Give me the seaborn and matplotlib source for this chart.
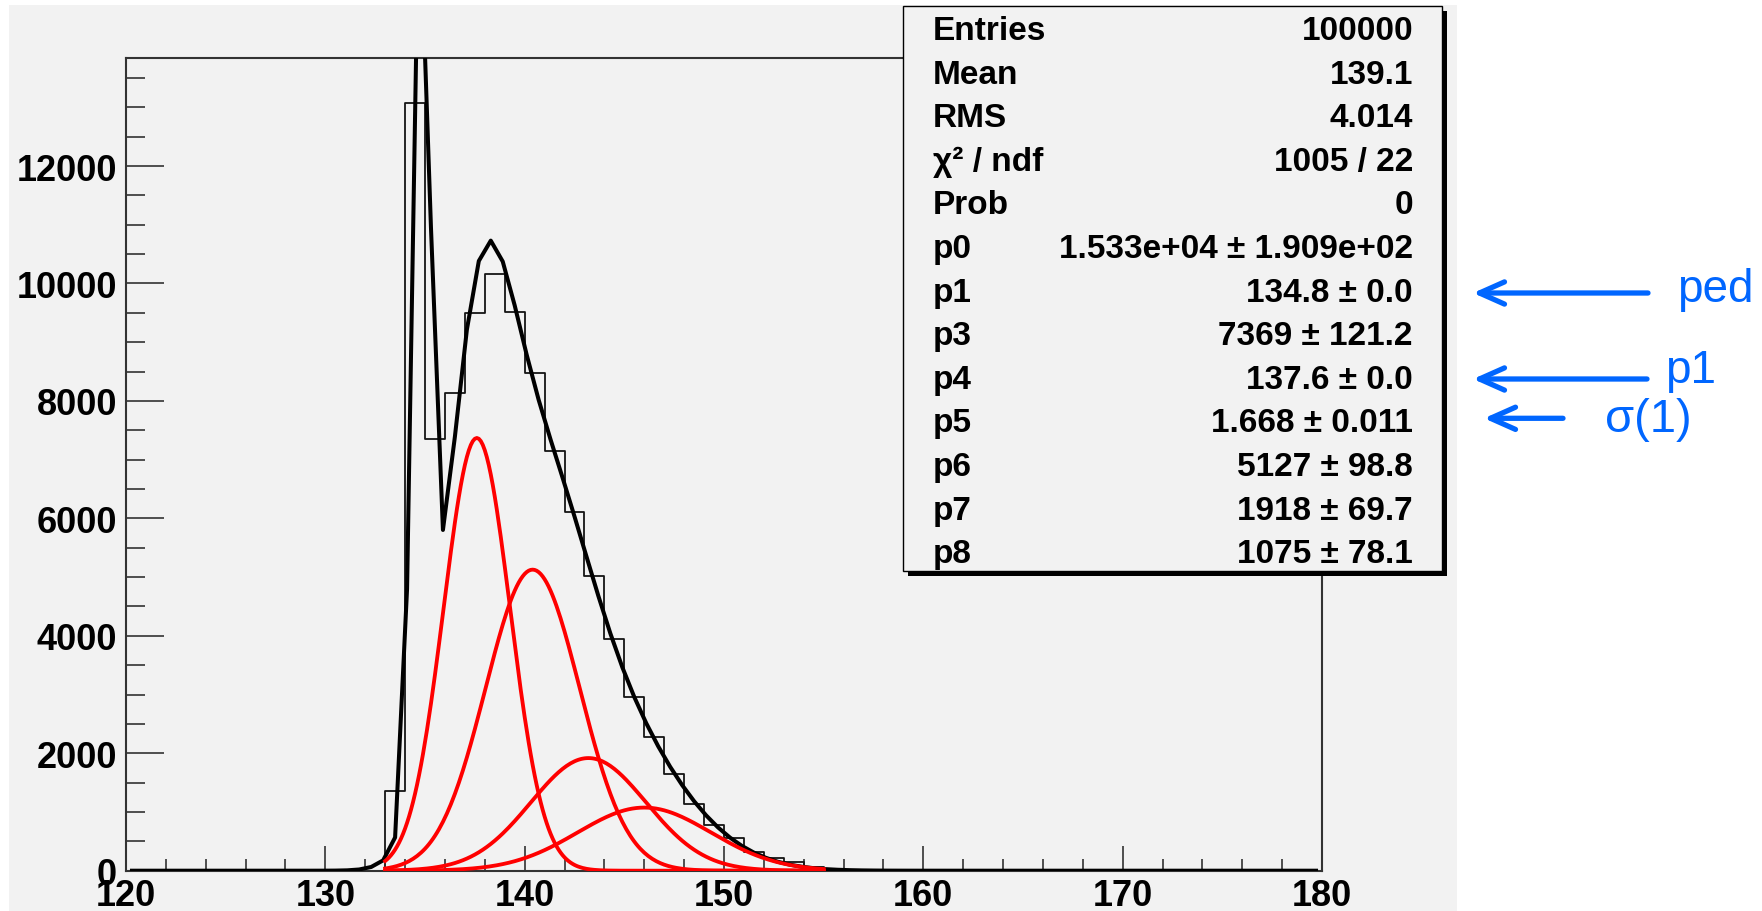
import numpy as np
import pandas as pd
import matplotlib
matplotlib.use("Agg")
import matplotlib.pyplot as plt
import seaborn as sns
from matplotlib.patches import Rectangle
from matplotlib.ticker import MultipleLocator

# ---------------- data ----------------
bin_edges = list(range(120, 181))            # 60 bins of width 1
bin_counts = [0, 0, 0, 0, 0, 0, 0, 0, 0, 0,   # 120-129
              0, 0, 0, 1350, 13070, 7350, 8130, 9500, 10170, 9520,   # 130-139
              8470, 7140, 6110, 5020, 3950, 2950, 2270, 1650, 1140, 770,  # 140-149
              550, 310, 210, 150, 70, 15, 0, 0, 0, 0,   # 150-159
              0, 0, 0, 0, 0, 0, 0, 0, 0, 0,   # 160-169
              0, 0, 0, 0, 0, 0, 0, 0, 0, 0]   # 170-179

# fit parameters (stats box); pedestal width is not shown -> estimated
ped_amp, ped_mean, ped_sigma = 15330.0, 134.8, 0.42
pe_amp = [7369.0, 5127.0, 1918.0, 1075.0]
pe_mean = [137.6, 140.4, 143.2, 146.0]
pe_sigma = [1.668, 2.36, 2.89, 3.34]
fit_range = [133.0, 155.0]

x_ticks = [120, 130, 140, 150, 160, 170, 180]
x_tick_labels = ["120", "130", "140", "150", "160", "170", "180"]
y_ticks = [0, 2000, 4000, 6000, 8000, 10000, 12000]
y_tick_labels = ["0", "2000", "4000", "6000", "8000", "10000", "12000"]

stat_names = ["Entries", "Mean", "RMS", "\u03c7\u00b2 / ndf", "Prob", "p0", "p1",
              "p3", "p4", "p5", "p6", "p7", "p8"]
stat_values = ["100000", "139.1", "4.014", "1005 / 22", "0",
               "1.533e+04 \u00b1 1.909e+02", "134.8 \u00b1 0.0", "7369 \u00b1 121.2",
               "137.6 \u00b1 0.0", "1.668 \u00b1 0.011", "5127 \u00b1 98.8",
               "1918 \u00b1 69.7", "1075 \u00b1 78.1"]
note_labels = ["ped", "p1", "\u03c3(1)"]

# ---------------- helpers ----------------
def gauss(x, a, m, s):
    return a * np.exp(-0.5 * ((x - m) / s) ** 2)

centers = np.array(bin_edges[:-1]) + 0.5
hist_df = pd.DataFrame({"x": centers, "w": bin_counts})

# ROOT draws the total fit through npx=100 bin centres over the axis range
fit_x = 120.0 + 0.6 * (np.arange(100) + 0.5)
fit_y = gauss(fit_x, ped_amp, ped_mean, ped_sigma)
for a, m, s in zip(pe_amp, pe_mean, pe_sigma):
    fit_y = fit_y + gauss(fit_x, a, m, s)

comp_x = np.linspace(fit_range[0], fit_range[1], 221)

# ---------------- figure ----------------
W, H = 1762, 912
plt.rcParams["font.family"] = ["Liberation Sans", "DejaVu Sans"]
fig = plt.figure(figsize=(W / 100, H / 100), dpi=100, facecolor="white")

GRAY = "#f2f2f2"
bg = fig.add_axes([0, 0, 1, 1], zorder=0)
bg.set_xlim(0, W); bg.set_ylim(H, 0); bg.axis("off")
bg.add_patch(Rectangle((9, 6), 1456.7 - 9, H - 6, facecolor=GRAY, edgecolor="none"))

left, right, top, bottom = 126, 1322, 59, 871.7
ax = fig.add_axes([left / W, (H - bottom) / H, (right - left) / W, (bottom - top) / H], zorder=1)
ax.set_facecolor(GRAY)

sns.histplot(data=hist_df, x="x", weights="w", bins=bin_edges, element="step",
             fill=False, color="#151515", linewidth=1.3, ax=ax, zorder=2)
sns.lineplot(x=fit_x, y=fit_y, color="black", linewidth=2.9, ax=ax,
             estimator=None, sort=False, zorder=3)
for a, m, s in zip(pe_amp, pe_mean, pe_sigma):
    sns.lineplot(x=comp_x, y=gauss(comp_x, a, m, s), color="#ff0000", linewidth=2.75,
                 ax=ax, estimator=None, sort=False, zorder=4)

ax.set_xlim(120, 180)
ax.set_ylim(0, 13840)
ax.set_xlabel(""); ax.set_ylabel("")
ax.set_xticks(x_ticks, labels=x_tick_labels, fontsize=26, fontweight="bold")
ax.set_yticks(y_ticks, labels=y_tick_labels, fontsize=26, fontweight="bold")
ax.xaxis.set_minor_locator(MultipleLocator(2))
ax.yaxis.set_minor_locator(MultipleLocator(500))
ax.tick_params(axis="both", which="both", direction="in", top=False, right=False,
               color="#333333", width=1.2)
ax.tick_params(axis="x", which="major", length=18, pad=5.5)
ax.tick_params(axis="x", which="minor", length=8.6)
ax.tick_params(axis="y", which="major", length=27, pad=6.5)
ax.tick_params(axis="y", which="minor", length=13.7)
for s in ax.spines.values():
    s.set_color("#333333"); s.set_linewidth(1.5)

# ---------------- overlay: stats box and notes ----------------
ov = fig.add_axes([0, 0, 1, 1], zorder=5)
ov.set_xlim(0, W); ov.set_ylim(H, 0); ov.axis("off")
bx0, by0, bx1, by1 = 903, 7, 1441.7, 571.7
ov.add_patch(Rectangle((bx0 + 5, by0 + 5), bx1 - bx0, by1 - by0, facecolor="black", edgecolor="none"))
ov.add_patch(Rectangle((bx0, by0), bx1 - bx0, by1 - by0, facecolor=GRAY, edgecolor="black", linewidth=1.0))
for i, (n, v) in enumerate(zip(stat_names, stat_values)):
    yb = 40 + 43.6 * i
    ov.text(933, yb, n, ha="left", va="baseline", fontsize=24, fontweight="bold", color="black")
    ov.text(1413, yb, v, ha="right", va="baseline", fontsize=24, fontweight="bold", color="black")

BLUE = "#0066ff"
arrow_y = [294, 380, 419.3]
arrow_tip = [1473, 1473, 1484]
arrow_tail = [1648, 1647, 1563]
text_x = [1677, 1665, 1605]
text_base = [301.7, 383.3, 431.7]
text_size = [33, 33, 34]
for lab, ay, tip, tail, tx, tb, fs in zip(note_labels, arrow_y, arrow_tip, arrow_tail,
                                          text_x, text_base, text_size):
    ov.annotate("", xy=(tip, ay), xytext=(tail, ay),
                arrowprops=dict(arrowstyle="->,head_length=18,head_width=8", color=BLUE,
                                lw=3.8, shrinkA=0, shrinkB=0, mutation_scale=1))
    ov.text(tx, tb, lab, ha="left", va="baseline", fontsize=fs, color=BLUE)

fig.savefig("out.png", dpi=100, facecolor="white")
